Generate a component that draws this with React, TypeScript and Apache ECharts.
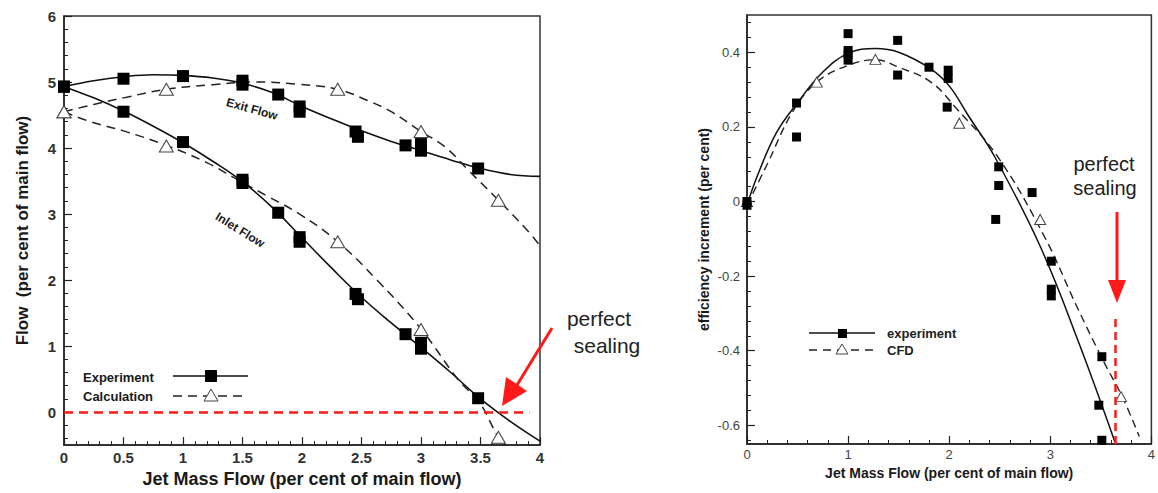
import React, { useEffect, useRef } from 'react';
import * as echarts from 'echarts';

// ---------- Left panel: Flow vs jet mass flow ----------
const exitExpX = [0, 0.5, 1.0, 1.5, 1.5, 1.8, 1.98, 1.98, 2.45, 2.47, 2.87, 3.0, 3.0, 3.48];
const exitExpY = [4.93, 5.05, 5.09, 5.02, 4.96, 4.81, 4.63, 4.55, 4.25, 4.17, 4.04, 4.06, 3.96, 3.69];
const inletExpX = [0, 0.5, 1.0, 1.5, 1.5, 1.8, 1.98, 1.98, 2.45, 2.47, 2.87, 3.0, 3.0, 3.48];
const inletExpY = [4.93, 4.55, 4.09, 3.52, 3.47, 3.02, 2.65, 2.58, 1.79, 1.71, 1.18, 1.05, 0.96, 0.21];
const exitCalcX = [0, 0.86, 2.3, 3.0, 3.65];
const exitCalcY = [4.55, 4.89, 4.89, 4.25, 3.21];
const inletCalcX = [0, 0.86, 2.3, 3.0, 3.65];
const inletCalcY = [4.55, 4.03, 2.58, 1.25, -0.38];

const exitFitX = [0, 0.25, 0.5, 0.75, 1.0, 1.25, 1.5, 1.75, 2.0, 2.25, 2.5, 2.75, 3.0, 3.25, 3.5, 3.75, 4.0];
const exitFitY = [4.93, 5.02, 5.08, 5.11, 5.1, 5.06, 4.98, 4.84, 4.63, 4.44, 4.26, 4.1, 3.96, 3.82, 3.69, 3.6, 3.57];
const inletFitX = [0, 0.25, 0.5, 0.75, 1.0, 1.25, 1.5, 1.75, 2.0, 2.25, 2.5, 2.75, 3.0, 3.25, 3.5, 3.75, 4.0];
const inletFitY = [4.93, 4.76, 4.56, 4.33, 4.08, 3.8, 3.49, 3.1, 2.64, 2.18, 1.74, 1.35, 0.98, 0.6, 0.2, -0.14, -0.44];
const exitCalcFitX = [0, 0.25, 0.5, 0.86, 1.25, 1.6, 1.95, 2.3, 2.55, 2.75, 3.0, 3.2, 3.4, 3.65, 3.9, 4.0];
const exitCalcFitY = [4.55, 4.66, 4.76, 4.89, 4.96, 5.0, 4.97, 4.89, 4.72, 4.55, 4.25, 4.02, 3.66, 3.21, 2.74, 2.52];
const inletCalcFitX = [0, 0.22, 0.5, 0.86, 1.2, 1.42, 1.7, 1.98, 2.3, 2.63, 3.0, 3.3, 3.5, 3.65, 3.72];
const inletCalcFitY = [4.55, 4.4, 4.26, 4.04, 3.78, 3.56, 3.28, 3.0, 2.58, 2.0, 1.26, 0.52, 0.12, -0.38, -0.5];

const leftYMajor = [0, 1, 2, 3, 4, 5, 6];
const leftYMinor = [-0.4, -0.2, 0.2, 0.4, 0.6, 0.8, 1.2, 1.4, 1.6, 1.8, 2.2, 2.4, 2.6, 2.8, 3.2, 3.4, 3.6, 3.8, 4.2, 4.4, 4.6, 4.8, 5.2, 5.4, 5.6, 5.8];
const sealLineLeft = [[0, 0], [3.91, 0]];

// ---------- Right panel: efficiency increment ----------
const effExpX = [0, 0, 0.49, 0.49, 1.0, 1.0, 1.0, 1.0, 1.49, 1.49, 1.8, 1.99, 1.99, 1.98, 2.49, 2.49, 2.82, 2.46, 3.01, 3.01, 3.01, 3.51, 3.48, 3.51];
const effExpY = [0.0, -0.01, 0.264, 0.173, 0.45, 0.405, 0.395, 0.379, 0.432, 0.339, 0.36, 0.352, 0.33, 0.253, 0.093, 0.043, 0.024, -0.048, -0.16, -0.235, -0.253, -0.416, -0.546, -0.64];
const effCfdX = [0, 0.69, 1.27, 2.1, 2.9, 3.7];
const effCfdY = [0.0, 0.32, 0.381, 0.21, -0.048, -0.523];

const effExpFitX = [0, 0.1, 0.29, 0.5, 0.75, 1.0, 1.27, 1.5, 1.82, 2.0, 2.19, 2.45, 2.9, 3.27, 3.64];
const effExpFitY = [-0.01, 0.067, 0.184, 0.265, 0.347, 0.397, 0.41, 0.4, 0.355, 0.31, 0.23, 0.12, -0.12, -0.37, -0.645];
const effCfdFitX = [0, 0.2, 0.45, 0.69, 1.0, 1.27, 1.5, 1.82, 2.07, 2.48, 2.94, 3.26, 3.53, 3.72, 3.88];
const effCfdFitY = [-0.01, 0.1, 0.24, 0.32, 0.365, 0.38, 0.36, 0.32, 0.25, 0.12, -0.093, -0.28, -0.43, -0.528, -0.63];

const rightYMajor = [-0.6, -0.4, -0.2, 0, 0.2, 0.4];
const rightYMinor = [-0.64, -0.56, -0.52, -0.48, -0.44, -0.36, -0.32, -0.28, -0.24, -0.16, -0.12, -0.08, -0.04, 0.04, 0.08, 0.12, 0.16, 0.24, 0.28, 0.32, 0.36, 0.44, 0.48];
const sealLineRight = [[3.64, -0.315], [3.64, -0.65]];

const zip = (xs: number[], ys: number[]) => xs.map((x, i) => [x, ys[i]]);

const FONT = '"Liberation Sans", Arial, sans-serif';
const INK = '#1a1a1a';

export default function App() {
  const ref = useRef<HTMLDivElement>(null);

  useEffect(() => {
    if (!ref.current) return;
    const chart = echarts.init(ref.current, null, { renderer: 'svg' });

    const axisLine = { show: true, onZero: false, lineStyle: { color: '#222', width: 1.5 } };

    const xAxisCommon = (gridIndex: number, interval: number, labelStyle: any, name: string, nameStyle: any, nameGap: number) => ({
      type: 'value', gridIndex, min: 0, max: 4, interval,
      axisLine,
      axisTick: { show: true, inside: true, length: 8, lineStyle: { color: '#222', width: 1.2 } },
      minorTick: { show: true, splitNumber: 5, length: 4, lineStyle: { color: '#222', width: 1 } },
      splitLine: { show: false },
      minorSplitLine: { show: false },
      axisLabel: labelStyle,
      name, nameLocation: 'middle', nameGap, nameTextStyle: nameStyle,
    });

    const leftLabel = { fontFamily: FONT, fontWeight: 'bold', fontSize: 15, color: '#333' };
    const rightLabel = { fontFamily: FONT, fontSize: 13, color: '#444' };
    const sq = { color: '#000', opacity: 1 };
    const tri = { color: '#fff', borderColor: '#444', borderWidth: 1, opacity: 1 };

    const option: any = {
      animation: false,
      backgroundColor: '#fff',
      grid: [
        { left: 64, top: 16, width: 476, height: 435, show: true, borderColor: '#333', borderWidth: 1.5, containLabel: false },
        { left: 747, top: 15, width: 409, height: 429, show: true, borderColor: '#333', borderWidth: 1.5, containLabel: false },
      ],
      xAxis: [
        xAxisCommon(0, 0.5, { ...leftLabel, margin: 5 }, 'Jet Mass Flow (per cent of main flow)',
          { fontFamily: FONT, fontWeight: 'bold', fontSize: 18, color: INK }, 23),
        xAxisCommon(1, 1, { ...rightLabel, margin: 4 }, 'Jet Mass Flow (per cent of main flow)',
          { fontFamily: FONT, fontWeight: 'bold', fontSize: 14, color: INK }, 17),
      ],
      yAxis: [
        {
          type: 'value', gridIndex: 0, min: -0.5, max: 6, position: 'left',
          axisLine,
          axisTick: { show: true, inside: true, length: 8, customValues: leftYMajor, lineStyle: { color: '#222', width: 1.2 } },
          axisLabel: { ...leftLabel, margin: 8, customValues: leftYMajor },
          splitLine: { show: false },
          name: 'Flow  (per cent of main flow)', nameLocation: 'middle', nameGap: 33,
          nameTextStyle: { fontFamily: FONT, fontWeight: 'bold', fontSize: 17, color: INK },
        },
        {
          type: 'value', gridIndex: 0, min: -0.5, max: 6, position: 'left', offset: 0,
          axisLine: { show: false },
          axisTick: { show: true, inside: true, length: 4, customValues: leftYMinor, lineStyle: { color: '#222', width: 1 } },
          axisLabel: { show: false },
          splitLine: { show: false },
        },
        {
          type: 'value', gridIndex: 1, min: -0.65, max: 0.5, position: 'left',
          axisLine,
          axisTick: { show: true, inside: true, length: 8, customValues: rightYMajor, lineStyle: { color: '#222', width: 1.2 } },
          axisLabel: { ...rightLabel, margin: 7, customValues: rightYMajor },
          splitLine: { show: false },
          name: 'efficiency increment (per cent)', nameLocation: 'middle', nameGap: 36,
          nameTextStyle: { fontFamily: FONT, fontWeight: 'bold', fontSize: 14, color: INK },
        },
        {
          type: 'value', gridIndex: 1, min: -0.65, max: 0.5, position: 'left', offset: 0,
          axisLine: { show: false },
          axisTick: { show: true, inside: true, length: 4, customValues: rightYMinor, lineStyle: { color: '#222', width: 1 } },
          axisLabel: { show: false },
          splitLine: { show: false },
        },
      ],
      series: [
        // left panel curves
        {
          type: 'line', xAxisIndex: 0, yAxisIndex: 0, data: zip(exitFitX, exitFitY), smooth: 0.4, showSymbol: false,
          lineStyle: { color: '#111', width: 1.6 }, z: 2,
          markLine: {
            silent: true, symbol: 'none', label: { show: false },
            lineStyle: { color: '#ff1a1a', type: [9, 6], width: 2.5 },
            data: [[{ coord: sealLineLeft[0] }, { coord: sealLineLeft[1] }]],
          },
        },
        { type: 'line', xAxisIndex: 0, yAxisIndex: 0, data: zip(inletFitX, inletFitY), smooth: 0.4, showSymbol: false, lineStyle: { color: '#111', width: 1.6 }, z: 2 },
        { type: 'line', xAxisIndex: 0, yAxisIndex: 0, data: zip(exitCalcFitX, exitCalcFitY), smooth: 0.4, showSymbol: false, lineStyle: { color: '#222', width: 1.5, type: [9, 6] }, z: 2 },
        { type: 'line', xAxisIndex: 0, yAxisIndex: 0, data: zip(inletCalcFitX, inletCalcFitY), smooth: 0.4, showSymbol: false, lineStyle: { color: '#222', width: 1.5, type: [9, 6] }, z: 2 },
        { type: 'scatter', xAxisIndex: 0, yAxisIndex: 0, data: zip(exitCalcX, exitCalcY), symbol: 'triangle', symbolSize: [14, 12], itemStyle: tri, z: 3 },
        { type: 'scatter', xAxisIndex: 0, yAxisIndex: 0, data: zip(inletCalcX, inletCalcY), symbol: 'triangle', symbolSize: [14, 12], itemStyle: tri, z: 3 },
        { type: 'scatter', xAxisIndex: 0, yAxisIndex: 0, data: zip(exitExpX, exitExpY), symbol: 'rect', symbolSize: 12, itemStyle: sq, z: 4 },
        { type: 'scatter', xAxisIndex: 0, yAxisIndex: 0, data: zip(inletExpX, inletExpY), symbol: 'rect', symbolSize: 12, itemStyle: sq, z: 4 },
        // right panel curves
        {
          type: 'line', xAxisIndex: 1, yAxisIndex: 2, data: zip(effExpFitX, effExpFitY), smooth: 0.4, showSymbol: false,
          lineStyle: { color: '#111', width: 1.5 }, z: 2,
          markLine: {
            silent: true, symbol: 'none', label: { show: false },
            lineStyle: { color: '#ff1a1a', type: [8, 5], width: 2.5 },
            data: [[{ coord: sealLineRight[0] }, { coord: sealLineRight[1] }]],
          },
        },
        { type: 'line', xAxisIndex: 1, yAxisIndex: 2, data: zip(effCfdFitX, effCfdFitY), smooth: 0.4, showSymbol: false, lineStyle: { color: '#222', width: 1.4, type: [8, 5] }, z: 2 },
        { type: 'scatter', xAxisIndex: 1, yAxisIndex: 2, data: zip(effCfdX, effCfdY), symbol: 'triangle', symbolSize: [11, 10], itemStyle: tri, z: 3 },
        { type: 'scatter', xAxisIndex: 1, yAxisIndex: 2, data: zip(effExpX, effExpY), symbol: 'rect', symbolSize: 9, itemStyle: sq, z: 4 },
      ],
      graphic: [
        // curve labels (left)
        { type: 'text', x: 252, y: 109, rotation: -0.27, z: 10,
          style: { text: 'Exit Flow', font: `bold 12px ${FONT}`, fill: INK, textAlign: 'center', textVerticalAlign: 'middle', verticalAlign: 'middle' } },
        { type: 'text', x: 240, y: 230, rotation: -0.56, z: 10,
          style: { text: 'Inlet Flow', font: `bold 12px ${FONT}`, fill: INK, textAlign: 'center', textVerticalAlign: 'middle', verticalAlign: 'middle' } },
        // left legend
        { type: 'text', x: 83, y: 377, z: 10, style: { text: 'Experiment', font: `bold 13px ${FONT}`, fill: INK, textAlign: 'left', textVerticalAlign: 'middle', verticalAlign: 'middle' } },
        { type: 'text', x: 83, y: 396, z: 10, style: { text: 'Calculation', font: `bold 13px ${FONT}`, fill: INK, textAlign: 'left', textVerticalAlign: 'middle', verticalAlign: 'middle' } },
        { type: 'line', z: 10, shape: { x1: 173, y1: 376, x2: 248, y2: 376 }, style: { stroke: '#111', lineWidth: 1.6 } },
        { type: 'rect', z: 11, shape: { x: 205, y: 370, width: 12, height: 12 }, style: { fill: '#000' } },
        { type: 'line', z: 10, shape: { x1: 173, y1: 396, x2: 248, y2: 396 }, style: { stroke: '#222', lineWidth: 1.5, lineDash: [9, 6] } },
        { type: 'polygon', z: 11, shape: { points: [[211, 389], [204, 401], [218, 401]] }, style: { fill: '#fff', stroke: '#444', lineWidth: 1 } },
        // right legend
        { type: 'line', z: 10, shape: { x1: 809, y1: 333, x2: 875, y2: 333 }, style: { stroke: '#111', lineWidth: 1.5 } },
        { type: 'rect', z: 11, shape: { x: 838, y: 329, width: 9, height: 9 }, style: { fill: '#000' } },
        { type: 'line', z: 10, shape: { x1: 809, y1: 350, x2: 875, y2: 350 }, style: { stroke: '#222', lineWidth: 1.4, lineDash: [8, 6] } },
        { type: 'polygon', z: 11, shape: { points: [[842, 344], [836, 354], [848, 354]] }, style: { fill: '#fff', stroke: '#444', lineWidth: 1 } },
        { type: 'text', x: 887, y: 333, z: 10, style: { text: 'experiment', font: `bold 13px ${FONT}`, fill: '#222', textAlign: 'left', textVerticalAlign: 'middle', verticalAlign: 'middle' } },
        { type: 'text', x: 887, y: 350, z: 10, style: { text: 'CFD', font: `bold 13px ${FONT}`, fill: '#222', textAlign: 'left', textVerticalAlign: 'middle', verticalAlign: 'middle' } },
        // perfect sealing annotations
        { type: 'text', x: 599, y: 318, z: 10, style: { text: 'perfect', font: `21px ${FONT}`, fill: '#222', textAlign: 'center', textVerticalAlign: 'middle', verticalAlign: 'middle' } },
        { type: 'text', x: 607, y: 345, z: 10, style: { text: 'sealing', font: `21px ${FONT}`, fill: '#222', textAlign: 'center', textVerticalAlign: 'middle', verticalAlign: 'middle' } },
        { type: 'line', z: 10, shape: { x1: 552, y1: 328, x2: 517, y2: 385 }, style: { stroke: '#ff1a1a', lineWidth: 3 } },
        { type: 'polygon', z: 10, shape: { points: [[502, 406], [527, 391], [506, 377]] }, style: { fill: '#ff1a1a' } },
        { type: 'text', x: 1104, y: 164, z: 10, style: { text: 'perfect', font: `20px ${FONT}`, fill: '#222', textAlign: 'center', textVerticalAlign: 'middle', verticalAlign: 'middle' } },
        { type: 'text', x: 1105, y: 188, z: 10, style: { text: 'sealing', font: `20px ${FONT}`, fill: '#222', textAlign: 'center', textVerticalAlign: 'middle', verticalAlign: 'middle' } },
        { type: 'line', z: 10, shape: { x1: 1117, y1: 212, x2: 1117, y2: 282 }, style: { stroke: '#ff1a1a', lineWidth: 3 } },
        { type: 'polygon', z: 10, shape: { points: [[1117, 303], [1108, 280], [1126, 280]] }, style: { fill: '#ff1a1a' } },
      ],
    };

    chart.setOption(option);
    return () => chart.dispose();
  }, []);

  return <div ref={ref} style={{ position: 'fixed', left: 0, top: 0, width: 1158, height: 493, background: '#fff' }} />;
}
